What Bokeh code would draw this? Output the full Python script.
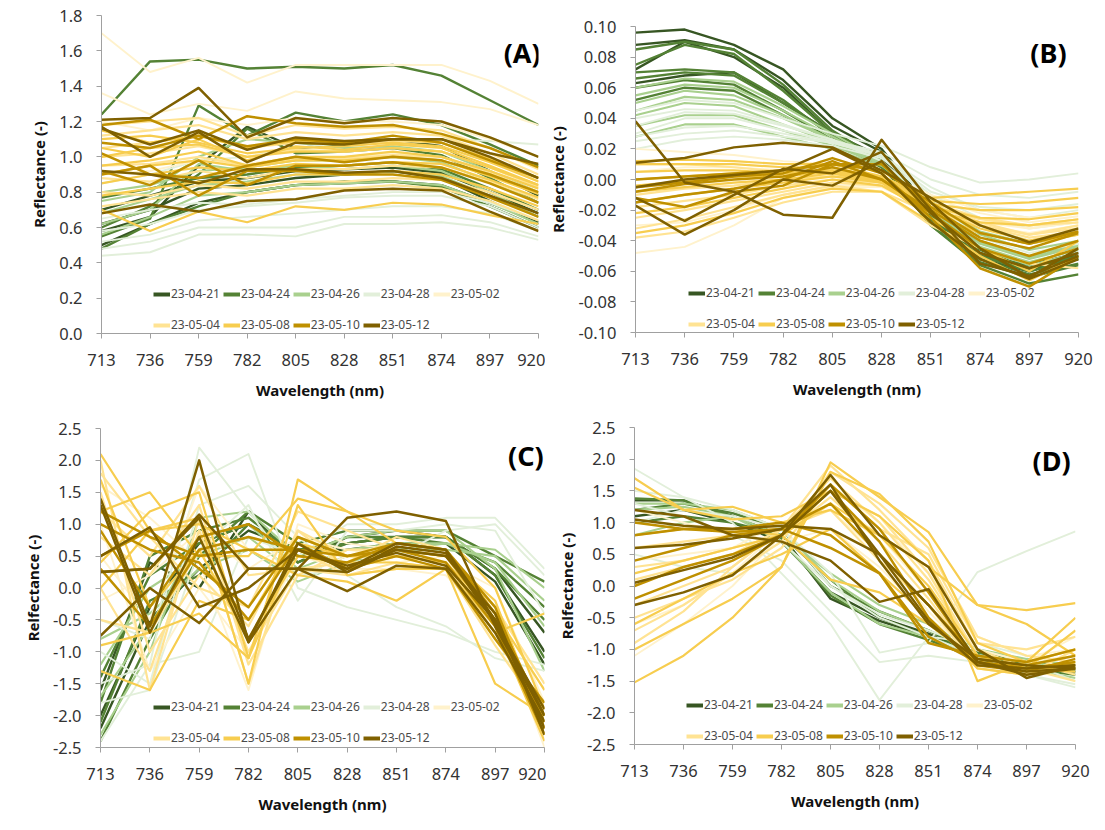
from bokeh.plotting import figure
from bokeh.models import Range1d, FixedTicker, NumeralTickFormatter, Legend, LegendItem, Label
from bokeh.layouts import column, row
from bokeh.embed import file_html
from bokeh.resources import INLINE

WAVELENGTHS = [713, 736, 759, 782, 805, 828, 851, 874, 897, 920]
DATES = ["23-04-21", "23-04-24", "23-04-26", "23-04-28", "23-05-02",
         "23-05-04", "23-05-08", "23-05-10", "23-05-12"]
COLORS = ["#375623", "#548235", "#A9D08E", "#E2EFDA", "#FFF2CC",
          "#FFE393", "#F7CD4F", "#BF9000", "#7F6000"]
WIDTHS = [2.4, 2.4, 2.1, 1.9, 1.9, 2.2, 2.2, 2.5, 2.5]

# ---------------- Panel A ----------------
A_0421 = [[0.50, 0.62, 0.74, 0.80, 0.84, 0.85, 0.86, 0.84, 0.74, 0.63],
          [0.58, 0.66, 0.95, 1.17, 1.05, 1.07, 1.10, 1.06, 0.92, 0.78],
          [0.70, 0.78, 0.86, 0.88, 0.92, 0.93, 0.94, 0.91, 0.80, 0.68],
          [0.62, 0.70, 0.82, 0.84, 0.88, 0.90, 0.92, 0.88, 0.75, 0.62]]
A_0424 = [[1.24, 1.54, 1.55, 1.50, 1.51, 1.50, 1.52, 1.46, 1.32, 1.18],
          [0.55, 0.65, 1.29, 1.12, 1.25, 1.20, 1.24, 1.18, 1.07, 0.95],
          [0.48, 0.62, 0.72, 0.80, 0.84, 0.86, 0.86, 0.83, 0.72, 0.60],
          [0.60, 0.72, 0.90, 1.16, 1.02, 1.03, 1.05, 1.01, 0.88, 0.74],
          [0.77, 0.82, 0.88, 0.90, 0.94, 0.95, 0.97, 0.93, 0.82, 0.70]]
A_0426 = [[0.62, 0.70, 0.96, 0.92, 0.95, 0.93, 0.95, 0.92, 0.80, 0.66],
          [0.68, 0.76, 0.84, 0.86, 0.90, 0.90, 0.92, 0.89, 0.78, 0.66],
          [0.75, 0.80, 1.00, 1.10, 1.08, 1.05, 1.06, 1.03, 0.92, 0.80],
          [0.80, 0.84, 0.92, 0.94, 0.98, 0.98, 1.00, 0.97, 0.86, 0.74],
          [0.56, 0.66, 0.78, 0.80, 0.84, 0.85, 0.86, 0.84, 0.74, 0.62]]
A_0428 = [[0.44, 0.46, 0.56, 0.56, 0.55, 0.62, 0.62, 0.63, 0.60, 0.53],
          [0.48, 0.52, 0.60, 0.60, 0.60, 0.66, 0.66, 0.67, 0.63, 0.55],
          [0.52, 0.56, 0.64, 0.66, 0.68, 0.70, 0.72, 0.72, 0.68, 0.58],
          [0.85, 0.90, 0.98, 1.00, 1.05, 1.08, 1.10, 1.10, 1.09, 1.07],
          [0.65, 0.70, 0.74, 0.73, 0.76, 0.78, 0.80, 0.80, 0.74, 0.64],
          [0.58, 0.62, 0.70, 0.72, 0.74, 0.77, 0.78, 0.78, 0.72, 0.60]]
A_0502 = [[1.70, 1.48, 1.56, 1.42, 1.52, 1.52, 1.52, 1.52, 1.43, 1.30],
          [1.36, 1.24, 1.30, 1.26, 1.37, 1.33, 1.32, 1.31, 1.27, 1.18],
          [1.20, 1.15, 1.22, 1.18, 1.22, 1.20, 1.20, 1.18, 1.10, 1.00],
          [0.90, 0.92, 0.98, 0.96, 1.00, 1.00, 1.02, 1.00, 0.92, 0.82]]
A_0504 = [[1.12, 1.15, 1.18, 1.10, 1.14, 1.12, 1.14, 1.12, 1.02, 0.90],
          [1.00, 1.02, 1.06, 1.00, 1.04, 1.03, 1.05, 1.03, 0.94, 0.83],
          [0.88, 0.86, 0.92, 0.88, 0.93, 0.93, 0.95, 0.94, 0.86, 0.76],
          [0.80, 0.78, 0.84, 0.82, 0.86, 0.86, 0.88, 0.87, 0.80, 0.70],
          [0.72, 0.76, 0.80, 0.78, 0.82, 0.82, 0.84, 0.82, 0.75, 0.64],
          [1.05, 1.08, 1.12, 1.05, 1.08, 1.07, 1.09, 1.08, 0.98, 0.86],
          [0.95, 0.96, 1.00, 0.95, 0.99, 0.99, 1.01, 1.00, 0.91, 0.80],
          [1.18, 1.20, 1.22, 1.12, 1.18, 1.16, 1.17, 1.15, 1.05, 0.93]]
A_0508 = [[1.10, 1.12, 1.08, 1.02, 1.05, 1.06, 1.08, 1.06, 0.97, 0.86],
          [0.95, 0.98, 1.03, 0.95, 1.00, 1.00, 1.03, 1.00, 0.92, 0.82],
          [0.85, 0.90, 0.94, 0.92, 0.96, 0.95, 0.97, 0.96, 0.87, 0.77],
          [0.70, 0.58, 0.69, 0.63, 0.72, 0.70, 0.74, 0.73, 0.67, 0.62],
          [1.05, 1.00, 1.10, 0.98, 1.06, 1.04, 1.07, 1.05, 0.95, 0.84],
          [0.78, 0.82, 0.86, 0.85, 0.90, 0.90, 0.92, 0.90, 0.82, 0.72],
          [1.00, 1.05, 1.07, 1.00, 1.03, 1.03, 1.05, 1.03, 0.94, 0.84],
          [0.90, 0.95, 0.98, 0.94, 0.98, 0.98, 1.00, 0.98, 0.89, 0.79],
          [1.15, 1.08, 1.12, 1.05, 1.09, 1.08, 1.10, 1.08, 0.99, 0.88]]
A_0510 = [[1.18, 1.21, 1.10, 1.23, 1.19, 1.17, 1.18, 1.13, 1.05, 0.94],
          [0.92, 0.84, 0.98, 0.84, 0.95, 0.95, 0.97, 0.94, 0.85, 0.74],
          [0.90, 0.95, 0.78, 0.92, 0.92, 0.90, 0.90, 0.87, 0.77, 0.66],
          [1.02, 0.90, 0.88, 0.95, 1.00, 0.97, 1.00, 0.98, 0.90, 0.80],
          [1.08, 1.05, 1.12, 1.06, 1.10, 1.08, 1.12, 1.08, 0.98, 0.88]]
A_0512 = [[1.21, 1.22, 1.39, 1.11, 1.22, 1.19, 1.22, 1.20, 1.11, 1.00],
          [1.17, 1.00, 1.14, 0.97, 1.08, 1.07, 1.10, 1.10, 1.00, 0.88],
          [1.16, 1.07, 1.15, 1.04, 1.11, 1.09, 1.10, 1.10, 1.02, 0.96],
          [0.68, 0.73, 0.69, 0.75, 0.76, 0.81, 0.82, 0.81, 0.69, 0.58],
          [0.92, 0.90, 0.85, 0.93, 0.93, 0.91, 0.92, 0.88, 0.78, 0.68]]

# ---------------- Panel B ----------------
B_0421 = [[0.096, 0.098, 0.088, 0.072, 0.040, 0.020, -0.020, -0.045, -0.055, -0.050],
          [0.088, 0.091, 0.085, 0.065, 0.035, 0.018, -0.022, -0.048, -0.058, -0.052],
          [0.072, 0.090, 0.080, 0.060, 0.030, 0.015, -0.025, -0.050, -0.056, -0.048],
          [0.063, 0.068, 0.070, 0.050, 0.030, 0.010, -0.028, -0.052, -0.060, -0.050]]
B_0424 = [[0.085, 0.090, 0.085, 0.062, 0.032, 0.012, -0.025, -0.050, -0.058, -0.052],
          [0.075, 0.088, 0.082, 0.058, 0.030, 0.012, -0.030, -0.056, -0.068, -0.062],
          [0.070, 0.072, 0.070, 0.052, 0.028, 0.010, -0.028, -0.052, -0.062, -0.055],
          [0.060, 0.065, 0.062, 0.045, 0.026, 0.008, -0.026, -0.050, -0.060, -0.052],
          [0.052, 0.060, 0.058, 0.042, 0.025, 0.008, -0.024, -0.046, -0.058, -0.050],
          [0.066, 0.070, 0.068, 0.050, 0.030, 0.010, -0.030, -0.054, -0.064, -0.056]]
B_0426 = [[0.060, 0.066, 0.064, 0.048, 0.030, 0.012, -0.022, -0.045, -0.056, -0.048],
          [0.050, 0.058, 0.055, 0.042, 0.026, 0.010, -0.020, -0.042, -0.052, -0.044],
          [0.042, 0.050, 0.048, 0.036, 0.024, 0.010, -0.018, -0.040, -0.050, -0.042],
          [0.035, 0.042, 0.042, 0.032, 0.022, 0.010, -0.015, -0.036, -0.046, -0.040],
          [0.028, 0.036, 0.036, 0.028, 0.020, 0.009, -0.014, -0.034, -0.042, -0.036],
          [0.055, 0.062, 0.060, 0.045, 0.028, 0.011, -0.020, -0.044, -0.054, -0.046],
          [0.045, 0.054, 0.052, 0.040, 0.026, 0.010, -0.019, -0.041, -0.051, -0.043]]
B_0428 = [[0.045, 0.052, 0.050, 0.040, 0.030, 0.022, 0.008, -0.002, 0.000, 0.004],
          [0.030, 0.040, 0.040, 0.032, 0.025, 0.018, 0.000, -0.010, -0.012, -0.008],
          [0.025, 0.030, 0.032, 0.028, 0.024, 0.015, -0.010, -0.025, -0.032, -0.028],
          [0.020, 0.026, 0.028, 0.026, 0.022, 0.014, -0.012, -0.030, -0.040, -0.034],
          [0.040, 0.046, 0.045, 0.036, 0.026, 0.012, -0.015, -0.038, -0.048, -0.042],
          [0.035, 0.044, 0.043, 0.035, 0.026, 0.016, -0.005, -0.020, -0.025, -0.020],
          [0.028, 0.034, 0.035, 0.030, 0.024, 0.016, -0.008, -0.018, -0.020, -0.016]]
B_0502 = [[-0.048, -0.044, -0.030, -0.012, -0.005, -0.005, -0.020, -0.030, -0.035, -0.030],
          [0.020, 0.018, 0.016, 0.012, 0.010, 0.005, -0.010, -0.020, -0.025, -0.022],
          [-0.030, -0.028, -0.020, -0.010, -0.004, -0.004, -0.018, -0.028, -0.032, -0.028],
          [0.005, 0.008, 0.008, 0.006, 0.006, 0.002, -0.012, -0.022, -0.028, -0.024]]
B_0504 = [[-0.038, -0.034, -0.025, -0.015, -0.008, -0.008, -0.022, -0.030, -0.036, -0.032],
          [-0.025, -0.020, -0.014, -0.008, -0.002, -0.004, -0.020, -0.030, -0.038, -0.034],
          [0.010, 0.010, 0.008, 0.005, 0.004, 0.000, -0.015, -0.025, -0.030, -0.026],
          [-0.010, -0.006, -0.004, 0.000, 0.002, 0.000, -0.016, -0.028, -0.036, -0.030],
          [-0.032, -0.026, -0.018, -0.010, -0.004, -0.008, -0.030, -0.045, -0.055, -0.058],
          [-0.018, -0.014, -0.010, -0.004, 0.000, -0.002, -0.018, -0.026, -0.030, -0.028]]
B_0508 = [[0.012, 0.013, 0.012, 0.010, 0.010, 0.002, -0.012, -0.010, -0.008, -0.006],
          [0.000, 0.002, 0.004, 0.004, 0.006, 0.000, -0.016, -0.020, -0.020, -0.018],
          [-0.015, -0.010, -0.006, -0.002, 0.002, -0.002, -0.020, -0.028, -0.030, -0.026],
          [-0.022, -0.018, -0.012, -0.006, 0.000, -0.004, -0.022, -0.035, -0.042, -0.036],
          [0.005, 0.006, 0.006, 0.004, 0.006, 0.000, -0.018, -0.032, -0.040, -0.034],
          [-0.008, -0.005, -0.002, 0.000, 0.004, -0.002, -0.025, -0.045, -0.060, -0.040],
          [-0.035, -0.030, -0.022, -0.012, -0.006, -0.008, -0.028, -0.050, -0.066, -0.050],
          [0.010, 0.010, 0.010, 0.008, 0.008, 0.001, -0.014, -0.016, -0.015, -0.012],
          [-0.004, -0.001, 0.002, 0.002, 0.005, -0.001, -0.018, -0.025, -0.026, -0.022]]
B_0510 = [[-0.008, -0.003, 0.000, 0.002, 0.008, 0.000, -0.020, -0.040, -0.050, -0.040],
          [-0.015, -0.010, -0.006, 0.000, 0.012, 0.000, -0.022, -0.045, -0.055, -0.045],
          [-0.005, -0.002, 0.002, 0.004, 0.014, 0.004, -0.025, -0.058, -0.070, -0.050],
          [-0.012, -0.018, -0.008, -0.004, 0.010, 0.010, -0.018, -0.038, -0.045, -0.035],
          [0.000, 0.002, 0.004, 0.006, 0.010, 0.006, -0.015, -0.035, -0.042, -0.034]]
B_0512 = [[0.038, -0.002, -0.008, -0.023, -0.025, 0.026, -0.015, -0.045, -0.064, -0.045],
          [0.011, 0.014, 0.021, 0.024, 0.021, 0.006, -0.012, -0.030, -0.041, -0.032],
          [-0.012, -0.027, -0.010, 0.007, 0.004, 0.018, -0.020, -0.055, -0.063, -0.050],
          [-0.017, -0.036, -0.020, 0.000, -0.004, 0.012, -0.022, -0.048, -0.058, -0.048],
          [-0.005, 0.000, 0.003, 0.006, 0.020, 0.004, -0.028, -0.052, -0.065, -0.052]]

# ---------------- Panel C ----------------
C_0421 = [[-2.0, -0.3, 0.7, 1.0, 0.5, 0.7, 0.8, 0.8, 0.2, -1.0],
          [-1.6, 0.4, 0.0, 1.2, 0.4, 0.8, 0.9, 0.8, 0.3, -0.7],
          [-2.2, -0.5, 0.3, 0.9, 0.6, 0.6, 0.7, 0.7, 0.1, -1.2]]
C_0424 = [[-2.4, -0.8, 0.5, 1.2, 0.7, 0.9, 0.9, 0.9, 0.5, 0.1],
          [-1.8, 0.5, 0.9, 1.1, 0.5, 0.8, 0.8, 0.8, 0.3, -0.5],
          [-2.1, -0.2, 0.2, 1.0, 0.6, 0.7, 0.8, 0.8, 0.2, -1.1],
          [-1.4, 0.2, 0.7, 1.0, 0.4, 0.7, 0.8, 0.7, 0.4, -0.3]]
C_0426 = [[-1.7, -0.6, 0.8, 1.0, 0.3, 0.6, 0.7, 0.7, 0.4, -0.6],
          [-1.2, 0.0, 0.5, 0.8, 0.2, 0.5, 0.6, 0.6, 0.5, -0.2],
          [-2.3, -1.0, 1.1, 1.2, 0.5, 0.8, 0.9, 0.9, 0.3, -1.3],
          [-0.8, -0.4, 0.3, 0.6, 0.1, 0.4, 0.6, 0.7, 0.6, 0.0]]
C_0428 = [[-1.5, -1.2, 2.2, 1.2, 0.2, 0.3, 0.5, 0.9, 1.0, 0.2],
          [-0.5, -0.8, 1.7, 2.1, 0.0, -0.3, -0.5, -0.7, -1.0, -1.2],
          [-1.0, -1.5, 1.3, 1.6, 0.8, 0.2, -0.3, -0.6, -1.1, -1.3],
          [-2.4, -1.2, -1.0, 0.8, 0.5, 1.0, 1.0, 1.1, 1.1, 0.3],
          [-1.8, -1.6, 0.6, 1.3, -0.2, 0.9, 0.9, 1.0, 0.9, -0.4]]
C_0502 = [[0.5, -0.5, 1.6, 0.6, 0.2, 0.5, 0.4, 0.5, -0.3, -1.5],
          [1.6, 1.1, 0.4, -1.6, 1.0, 0.7, 0.6, 0.5, -0.4, -2.5],
          [-0.2, 0.2, 0.9, 0.3, 0.8, 0.6, 0.5, 0.4, 0.0, -1.8],
          [1.0, -1.3, 0.0, -1.0, 0.5, 0.3, 0.3, 0.2, -0.6, -2.0]]
C_0504 = [[2.0, -1.6, 1.1, -1.5, 0.9, 0.5, 0.5, 0.4, -0.6, -2.3],
          [1.2, 0.5, 1.6, 0.2, 0.3, 0.4, 0.8, 0.6, -0.4, -2.0],
          [-0.5, -0.7, 0.6, -0.8, 0.6, 0.2, 0.3, 0.3, -0.8, -1.9],
          [0.8, 0.2, 1.3, -1.2, 0.2, 0.6, 0.6, 0.5, -0.3, -1.5],
          [1.5, -1.0, 0.2, -0.6, 0.9, 0.3, 0.5, 0.4, -0.5, -2.2],
          [1.8, 0.8, 0.0, -0.3, 1.2, 0.9, 0.6, 0.5, -0.4, -2.1],
          [0.0, -1.3, 0.9, -1.0, 0.3, 0.2, 0.4, 0.3, -0.9, -2.0]]
C_0508 = [[2.1, 0.9, 1.1, -1.5, 1.7, 1.2, 0.7, 0.6, -0.5, -2.3],
          [1.2, 1.5, 0.5, 0.5, 1.4, 1.2, 0.9, 0.8, 0.0, -1.9],
          [-0.9, -0.7, -0.4, -1.1, 1.3, 0.2, 0.3, 0.3, -1.5, -2.0],
          [-1.3, -1.6, -0.2, -0.5, 0.8, 0.5, 0.5, 0.4, -0.4, -1.6],
          [0.4, 1.2, 1.5, -1.1, 0.7, 0.5, 0.6, 0.5, -0.2, -2.2],
          [1.7, -0.3, 0.6, -0.8, 0.5, 0.4, 0.4, 0.3, -0.6, -2.4],
          [0.0, 0.9, 1.0, 0.6, 0.2, 0.1, -0.2, 0.3, -0.7, -0.4]]
C_0510 = [[1.2, 0.8, 0.5, 0.6, 0.6, 0.3, 0.6, 0.5, -0.5, -2.1],
          [0.5, 0.9, 0.3, -0.3, 0.8, 0.5, 0.7, 0.6, -0.3, -2.2],
          [0.9, -0.3, 0.8, 1.0, 0.5, 0.4, 0.7, 0.6, -0.4, -2.0],
          [0.3, -0.6, 0.6, 0.8, 0.6, 0.5, 0.6, 0.4, -0.6, -2.3],
          [1.0, 0.6, 0.4, -0.5, 0.7, 0.3, 0.5, 0.3, -0.8, -1.8]]
C_0512 = [[1.4, -0.6, 2.0, -0.85, 0.3, 1.1, 1.2, 1.05, -0.6, -2.0],
          [0.25, 0.3, 1.1, -0.8, 0.6, 0.3, 0.7, 0.6, -0.5, -2.2],
          [-0.75, 0.0, -0.55, 0.3, 0.3, 0.25, 0.65, 0.55, -0.55, -1.9],
          [0.25, 0.3, 1.15, 0.3, 0.3, -0.05, 0.35, 0.3, -0.7, -2.1],
          [0.5, 0.95, -0.3, 0.0, 0.6, 0.35, 0.55, 0.35, -0.5, -2.0],
          [1.3, -0.7, 0.8, -0.85, 0.7, 0.25, 0.6, 0.5, -0.4, -2.3]]

# ---------------- Panel D ----------------
D_0421 = [[1.35, 1.35, 1.1, 0.8, -0.2, -0.55, -0.8, -1.1, -1.25, -1.35],
          [1.1, 1.2, 1.0, 0.7, -0.1, -0.5, -0.75, -1.1, -1.2, -1.3]]
D_0424 = [[1.38, 1.35, 1.1, 0.75, -0.15, -0.6, -0.85, -1.15, -1.3, -1.4],
          [1.2, 1.3, 1.15, 0.9, 0.0, -0.4, -0.7, -1.1, -1.25, -1.35],
          [1.0, 1.1, 1.0, 0.8, 0.1, -0.5, -0.8, -1.05, -1.2, -1.3]]
D_0426 = [[1.3, 1.3, 1.2, 0.9, 0.1, -0.4, -0.7, -1.0, -1.2, -1.3],
          [0.8, 1.0, 1.1, 0.8, 0.2, -0.3, -0.6, -1.0, -1.15, -1.25],
          [1.2, 1.25, 1.1, 0.7, -0.1, -0.6, -0.8, -1.1, -1.3, -1.45]]
D_0428 = [[1.85, 1.4, 1.0, 0.2, -0.6, -1.8, -0.8, -1.1, -1.4, -1.6],
          [1.5, 1.4, 1.2, 0.9, 0.2, -1.05, -0.9, 0.22, 0.55, 0.86],
          [1.3, 1.1, 0.8, 0.4, -0.4, -1.2, -1.1, -1.2, -1.4, -1.55],
          [0.5, 0.3, 0.2, 0.7, 0.0, -0.5, -0.8, -0.9, -1.1, -1.2],
          [1.0, 1.2, 1.1, 0.9, 0.0, -0.45, -0.7, -1.0, -1.2, -1.5]]
D_0502 = [[-0.6, -0.3, 0.2, 0.9, 1.6, 1.0, 0.2, -0.8, -1.1, -1.0],
          [-1.1, -0.6, 0.0, 0.8, 1.4, 0.8, -0.1, -1.0, -1.2, -1.1],
          [0.4, 0.5, 0.6, 1.0, 1.2, 0.5, -0.4, -1.2, -1.3, -1.2],
          [1.2, 1.0, 0.8, 0.7, 0.9, 0.3, -0.5, -1.1, -1.2, -0.8]]
D_0504 = [[-0.9, -0.4, 0.3, 0.9, 1.9, 1.2, 0.4, -1.0, -1.3, -1.3],
          [-0.3, 0.0, 0.3, 0.9, 1.7, 1.0, 0.1, -1.1, -1.2, -1.4],
          [0.3, 0.4, 0.6, 0.8, 1.4, 0.7, -0.2, -1.2, -1.3, -1.5],
          [0.6, 0.7, 0.8, 0.9, 1.2, 0.4, -0.3, -1.3, -1.4, -1.0],
          [-0.5, -0.2, 0.1, 0.6, 1.6, 0.9, 0.5, -0.9, -1.0, -0.8],
          [-0.7, -0.3, 0.2, 0.7, 1.8, 1.3, 0.6, -0.8, -1.1, -1.2],
          [0.1, 0.3, 0.5, 0.9, 1.5, 1.1, 0.2, -1.1, -1.3, -1.3]]
D_0508 = [[-1.52, -1.1, -0.5, 0.3, 1.95, 1.4, 0.85, -0.3, -0.38, -0.27],
          [1.7, 1.2, 1.05, 1.1, 1.5, 1.1, 0.4, -1.5, -1.2, -0.5],
          [1.55, 1.2, 1.25, 1.0, 1.2, 0.8, 0.0, -1.1, -1.3, -0.7],
          [-1.0, -0.6, -0.2, 0.3, 1.8, 1.45, 0.7, -0.9, -1.2, -1.0],
          [-0.6, -0.2, 0.2, 0.5, 0.9, 0.2, -0.5, -1.3, -1.4, -1.2],
          [0.8, 0.9, 0.9, 0.8, 0.1, -0.1, -0.6, -1.2, -1.3, -1.35],
          [0.2, 0.4, 0.6, 0.8, 1.3, 0.8, 0.3, -0.3, -0.6, -1.1]]
D_0510 = [[0.8, 0.9, 0.9, 1.0, 0.8, 0.2, -0.8, -1.2, -1.3, -1.2],
          [0.4, 0.6, 0.8, 0.9, 1.3, 0.5, -0.3, -1.15, -1.25, -1.1],
          [-0.2, 0.1, 0.4, 0.8, 1.5, 0.7, -0.5, -1.25, -1.35, -1.15],
          [1.0, 0.9, 0.85, 0.9, 0.6, 0.2, -0.9, -1.1, -1.2, -1.0],
          [0.0, 0.3, 0.5, 0.8, 1.6, 0.9, -0.1, -1.2, -1.3, -1.25]]
D_0512 = [[-0.3, -0.1, 0.17, 0.8, 1.75, 0.8, 0.3, -1.0, -1.45, -1.25],
          [1.2, 1.1, 0.8, 0.7, 0.4, -0.25, -0.05, -1.2, -1.35, -1.3],
          [0.6, 0.65, 0.75, 0.9, 1.6, 0.4, -0.6, -1.15, -1.25, -1.3],
          [1.05, 0.95, 0.9, 0.95, 0.9, 0.5, -0.55, -1.25, -1.3, -1.25],
          [0.05, 0.25, 0.45, 0.8, 1.5, 0.5, -0.3, -1.2, -1.4, -1.3]]

TICKS_A = [0.0, 0.2, 0.4, 0.6, 0.8, 1.0, 1.2, 1.4, 1.6, 1.8]
TICKS_B = [-0.10, -0.08, -0.06, -0.04, -0.02, 0.0, 0.02, 0.04, 0.06, 0.08, 0.10]
TICKS_CD = [-2.5, -2.0, -1.5, -1.0, -0.5, 0.0, 0.5, 1.0, 1.5, 2.0, 2.5]

FONT = "Noto Sans"
NAN = float("nan")


def make_panel(series, letter, ylabel, yticks, yfmt, w, h, bl, br, bt, bb,
               leg_x, leg_y, fx, fy):
    y0, y1 = yticks[0], yticks[-1]
    p = figure(width=w, height=h, output_backend="svg", toolbar_location=None,
               x_range=Range1d(WAVELENGTHS[0], WAVELENGTHS[-1]),
               y_range=Range1d(y0, y1),
               min_border_left=bl, min_border_right=br,
               min_border_top=bt, min_border_bottom=bb)
    try:
        p.frame_align = False
    except Exception:
        pass
    p.xgrid.visible = False
    p.ygrid.visible = False
    p.outline_line_color = None
    p.background_fill_color = "white"
    p.border_fill_color = "white"

    for lines, color, lw in zip(series, COLORS, WIDTHS):
        p.multi_line(xs=[WAVELENGTHS] * len(lines), ys=lines,
                     line_color=color, line_width=lw, line_join="round")

    items = []
    for date, color in zip(DATES, COLORS):
        r = p.line(x=[NAN, NAN], y=[NAN, NAN], line_color=color, line_width=4)
        items.append(LegendItem(label=date, renderers=[r]))

    for part, yy in ((items[:5], leg_y + 31), (items[5:], leg_y)):
        lg = Legend(items=part, orientation="horizontal", location=(leg_x, yy),
                    spacing=3, padding=0, margin=0,
                    glyph_width=17, glyph_height=16, label_height=16,
                    label_standoff=1,
                    label_text_font=FONT, label_text_font_size="12px",
                    label_text_color="#4A4A4A",
                    background_fill_alpha=0, border_line_alpha=0)
        p.add_layout(lg, "center")

    for ax in (p.xaxis[0], p.yaxis[0]):
        ax.axis_line_color = "#A0A0A0"
        ax.major_tick_line_color = "#A0A0A0"
        ax.major_tick_in = 0
        ax.major_tick_out = 5
        ax.minor_tick_line_color = None
        ax.major_label_text_font = FONT
        ax.major_label_text_font_size = "16.5px"
        ax.major_label_text_color = "#333333"
        ax.axis_label_text_font = FONT
        ax.axis_label_text_font_size = "15px"
        ax.axis_label_text_font_style = "bold"
        ax.axis_label_text_color = "#111111"

    p.xaxis.ticker = FixedTicker(ticks=WAVELENGTHS)
    p.xaxis.axis_label = "Wavelength (nm)"
    p.xaxis.major_label_standoff = 15
    p.xaxis.axis_label_standoff = 11
    p.yaxis.ticker = FixedTicker(ticks=yticks)
    p.yaxis.formatter = NumeralTickFormatter(format=yfmt)
    p.yaxis.axis_label = ylabel
    p.yaxis.major_label_standoff = 14
    p.yaxis.axis_label_standoff = 7

    xs = WAVELENGTHS[0] + (WAVELENGTHS[-1] - WAVELENGTHS[0]) * fx
    ys = y0 + (y1 - y0) * fy
    p.add_layout(Label(x=xs, y=ys, text=letter, text_font=FONT,
                       text_font_size="27px", text_font_style="bold",
                       text_color="#000000", text_align="right",
                       text_baseline="middle"))
    return p


pA = make_panel([A_0421, A_0424, A_0426, A_0428, A_0502, A_0504, A_0508, A_0510, A_0512],
                "(A)", "Reflectance (-)", TICKS_A, "0.0",
                545, 408, 101, 7, 15, 75, 52, 0, 1.005, 0.885)
pB = make_panel([B_0421, B_0424, B_0426, B_0428, B_0502, B_0504, B_0508, B_0510, B_0512],
                "(B)", "Reflectance (-)", TICKS_B, "0.00",
                552, 408, 88, 19, 26, 76, 53, 0, 0.973, 0.915)
pC = make_panel([C_0421, C_0424, C_0426, C_0428, C_0502, C_0504, C_0508, C_0510, C_0512],
                "(C)", "Relfectance (-)", TICKS_CD, "0.0",
                546, 410, 100, 2, 20, 71, 53, 1, 0.998, 0.915)
pD = make_panel([D_0421, D_0424, D_0426, D_0428, D_0502, D_0504, D_0508, D_0510, D_0512],
                "(D)", "Relfectance (-)", TICKS_CD, "0.0",
                551, 410, 88, 22, 19, 74, 52, 0, 0.989, 0.896)

layout = column(row(pA, pB), row(pC, pD))
open("out.html", "w").write(file_html(layout, INLINE))
